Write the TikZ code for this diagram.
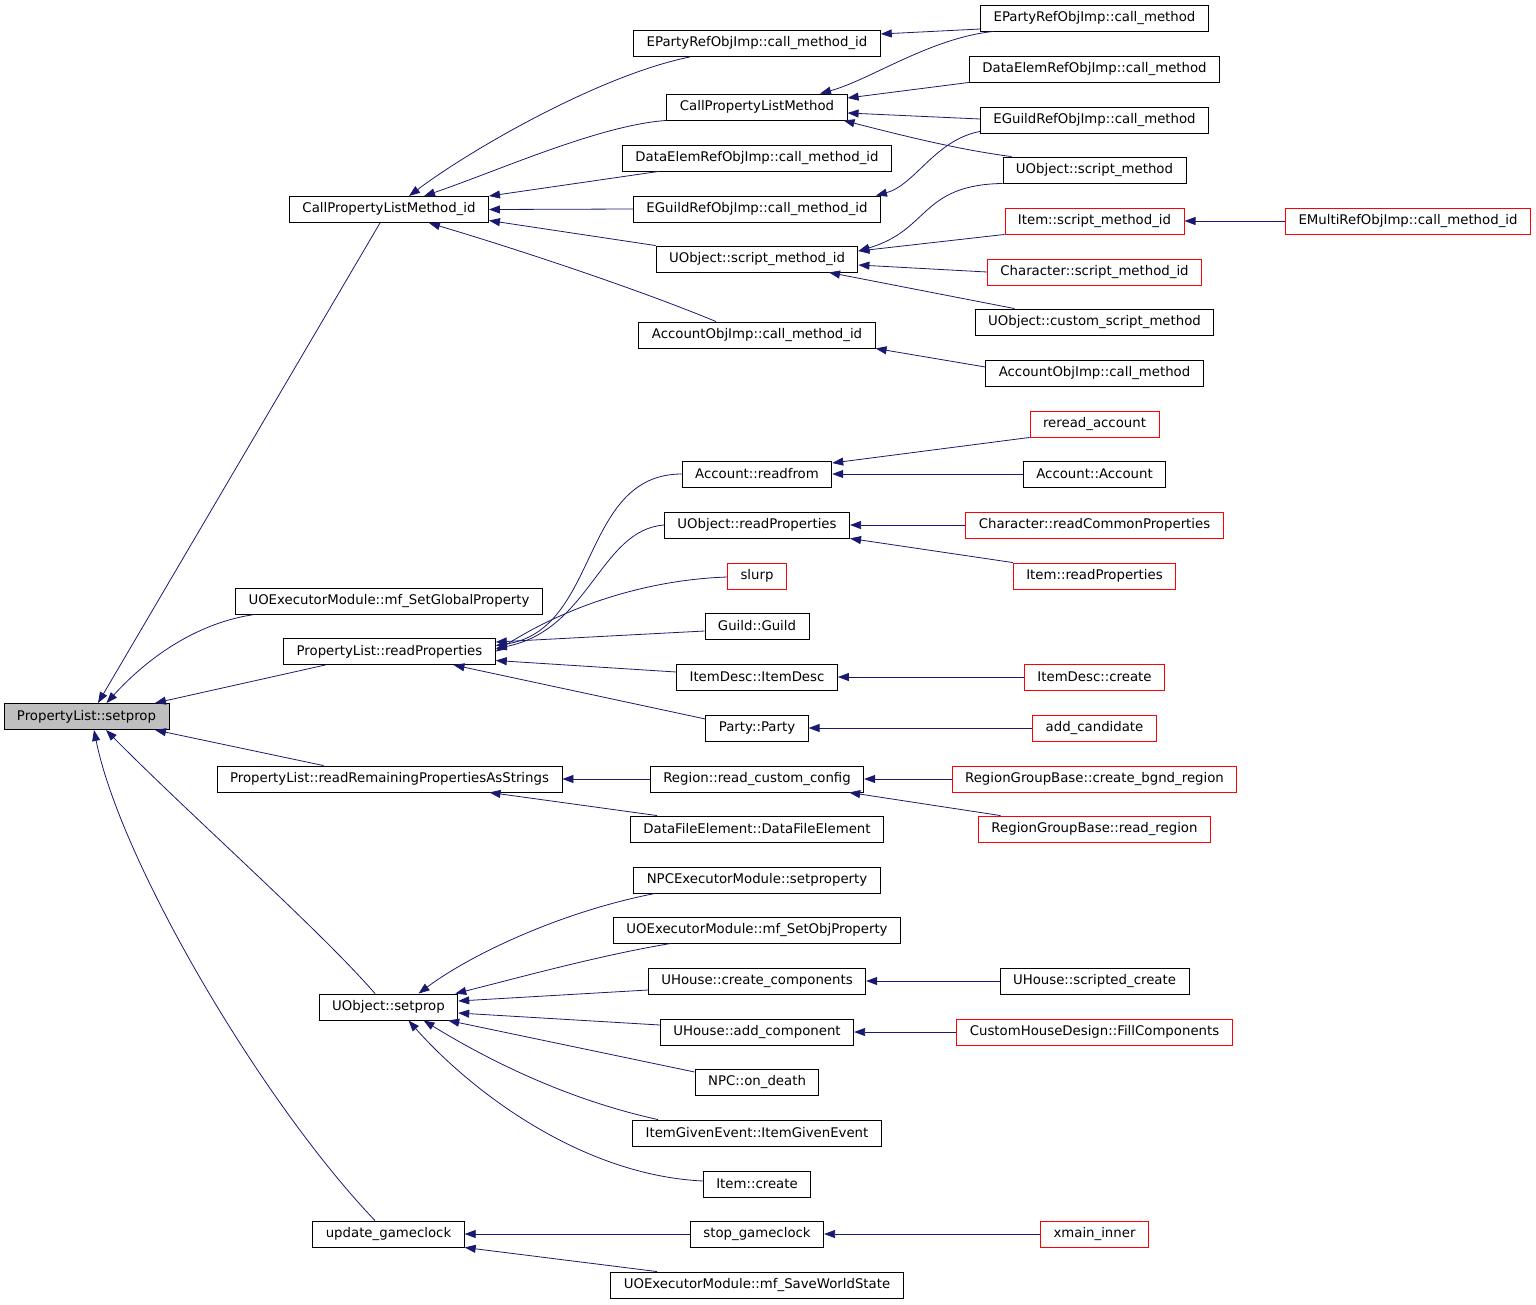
\documentclass[tikz,border=0pt]{standalone}
\usepackage{fontspec}
\setmainfont{DejaVu Sans}
\usetikzlibrary{arrows.meta}
\definecolor{edgeblue}{HTML}{191970}
\definecolor{boxred}{HTML}{FF0000}
\definecolor{focusgray}{HTML}{BFBFBF}

\begin{document}
\begin{tikzpicture}[x=1pt, y=-1pt,
		fn/.style={draw=black, line width=0.9pt, rectangle, minimum height=26pt, inner xsep=13pt, inner ysep=0pt, font=\fontsize{13.3}{15}\selectfont},
		fnred/.style={fn, draw=boxred},
		calls/.style={draw=edgeblue, line width=0.8pt, {Triangle[length=11pt,width=8pt]}-}]
	\useasboundingbox (0,0) rectangle (1536,1304);
	\node[fn, fill=focusgray] (setprop) at (86.5,716.5) {PropertyList::setprop};
	\node[fn] (cplmId) at (389,209.5) {CallPropertyListMethod\_id};
	\node[fn] (setGlobal) at (389,601) {UOExecutorModule::mf\_SetGlobalProperty};
	\node[fn] (plReadProps) at (389.5,651.5) {PropertyList::readProperties};
	\node[fn] (plReadRemaining) at (389.5,779) {PropertyList::readRemainingPropertiesAsStrings};
	\node[fn] (uoSetprop) at (388.5,1007) {UObject::setprop};
	\node[fn] (updateClock) at (388.5,1234) {update\_gameclock};
	\node[fn] (epartyId) at (757,43.5) {EPartyRefObjImp::call\_method\_id};
	\node[fn] (cplm) at (757,107) {CallPropertyListMethod};
	\node[fn] (dataelemId) at (757,158) {DataElemRefObjImp::call\_method\_id};
	\node[fn] (eguildId) at (757,209) {EGuildRefObjImp::call\_method\_id};
	\node[fn] (uoScriptId) at (757,259) {UObject::script\_method\_id};
	\node[fn] (accountId) at (757,335) {AccountObjImp::call\_method\_id};
	\node[fn] (accReadfrom) at (757,474) {Account::readfrom};
	\node[fn] (uoReadProps) at (757,525) {UObject::readProperties};
	\node[fnred] (slurp) at (757,576) {slurp};
	\node[fn] (guild) at (757,626) {Guild::Guild};
	\node[fn] (itemDescCtor) at (757,677) {ItemDesc::ItemDesc};
	\node[fn] (party) at (757,728) {Party::Party};
	\node[fn] (regionCfg) at (757,779) {Region::read\_custom\_config};
	\node[fn] (dataFileElem) at (757,829) {DataFileElement::DataFileElement};
	\node[fn] (npcSetprop) at (757,880) {NPCExecutorModule::setproperty};
	\node[fn] (setObjProp) at (757,930) {UOExecutorModule::mf\_SetObjProperty};
	\node[fn] (createComps) at (757,981) {UHouse::create\_components};
	\node[fn] (addComp) at (757,1032) {UHouse::add\_component};
	\node[fn] (npcDeath) at (757,1082) {NPC::on\_death};
	\node[fn] (itemGiven) at (757,1133) {ItemGivenEvent::ItemGivenEvent};
	\node[fn] (itemCreate) at (757,1184) {Item::create};
	\node[fn] (stopClock) at (757,1234) {stop\_gameclock};
	\node[fn] (saveWorld) at (757,1285) {UOExecutorModule::mf\_SaveWorldState};
	\node[fn] (epartyCm) at (1094.5,18) {EPartyRefObjImp::call\_method};
	\node[fn] (dataelemCm) at (1094.5,69) {DataElemRefObjImp::call\_method};
	\node[fn] (eguildCm) at (1094.5,120) {EGuildRefObjImp::call\_method};
	\node[fn] (uoScriptMethod) at (1094.5,170) {UObject::script\_method};
	\node[fnred] (itemScriptId) at (1094.5,221) {Item::script\_method\_id};
	\node[fnred] (charScriptId) at (1094.5,272) {Character::script\_method\_id};
	\node[fn] (customScript) at (1094.5,322) {UObject::custom\_script\_method};
	\node[fn] (accountCm) at (1094.5,373) {AccountObjImp::call\_method};
	\node[fnred] (rereadAccount) at (1094.5,424) {reread\_account};
	\node[fn] (accountCtor) at (1094.5,474) {Account::Account};
	\node[fnred] (charReadCommon) at (1094.5,525) {Character::readCommonProperties};
	\node[fnred] (itemReadProps) at (1094.5,576) {Item::readProperties};
	\node[fnred] (itemDescCreate) at (1094.5,677) {ItemDesc::create};
	\node[fnred] (addCandidate) at (1094.5,728) {add\_candidate};
	\node[fnred] (createBgnd) at (1094.5,779) {RegionGroupBase::create\_bgnd\_region};
	\node[fnred] (readRegion) at (1094.5,829) {RegionGroupBase::read\_region};
	\node[fn] (scriptedCreate) at (1094.5,981) {UHouse::scripted\_create};
	\node[fnred] (fillComps) at (1094.5,1032) {CustomHouseDesign::FillComponents};
	\node[fnred] (xmainInner) at (1094.5,1234) {xmain\_inner};
	\node[fnred] (emultiId) at (1408,221) {EMultiRefObjImp::call\_method\_id};

	\draw[calls] ([xshift=11.5]setprop.north) -- ([xshift=-9]cplmId.south);
	\draw[calls] ([xshift=20]setprop.north) .. controls (150,655) and (200,622) .. ([xshift=-134]setGlobal.south);
	\draw[calls] ([xshift=68.5]setprop.north) -- ([xshift=-64]plReadProps.south);
	\draw[calls] ([xshift=68.5]setprop.south) -- ([xshift=-66]plReadRemaining.north);
	\draw[calls] ([xshift=19.5]setprop.south) .. controls (190,815) and (320,930) .. ([xshift=-13.5]uoSetprop.north);
	\draw[calls] ([xshift=7.5]setprop.south) .. controls (120,860) and (260,1100) .. ([xshift=-13.5]updateClock.north);
	\draw[calls] ([xshift=20]cplmId.north) .. controls (470,150) and (600,75) .. ([xshift=-67]epartyId.south);
	\draw[calls] ([xshift=35]cplmId.north) .. controls (500,170) and (600,125) .. (cplm.south west);
	\draw[calls] (cplmId.north east) -- ([xshift=-98.5]dataelemId.south);
	\draw[calls] (cplmId.east) -- (eguildId.west);
	\draw[calls] ([yshift=-11]cplmId.east) -- (uoScriptId.north west);
	\draw[calls] ([xshift=40]cplmId.south) .. controls (520,250) and (640,290) .. ([xshift=-41]accountId.north);
	\draw[calls] ([xshift=63]cplm.north) .. controls (870,80) and (930,38) .. ([xshift=-101]epartyCm.south);
	\draw[calls] ([yshift=9]cplm.east) -- (dataelemCm.south west);
	\draw[calls] ([yshift=-6]cplm.east) -- ([yshift=1]eguildCm.west);
	\draw[calls] ([xshift=-4]cplm.south east) .. controls (900,135) and (960,150) .. ([xshift=-83]uoScriptMethod.north);
	\draw[calls] ([yshift=9.5]epartyId.east) -- ([yshift=-11]epartyCm.west);
	\draw[calls] ([xshift=-5]eguildId.north east) .. controls (915,185) and (935,140) .. ([yshift=2]eguildCm.south west);
	\draw[calls] ([yshift=8]uoScriptId.east) .. controls (930,230) and (920,185) .. (uoScriptMethod.south west);
	\draw[calls] ([yshift=8]uoScriptId.east) -- (itemScriptId.south west);
	\draw[calls] ([yshift=-6]uoScriptId.east) -- (charScriptId.west);
	\draw[calls] ([xshift=72]uoScriptId.south) -- ([xshift=-80]customScript.north);
	\draw[calls] (accountId.south east) -- ([yshift=6]accountCm.west);
	\draw[calls] (itemScriptId.east) -- (emultiId.west);
	\draw[calls] ([yshift=6]plReadProps.east) .. controls (600,630) and (580,474) .. (accReadfrom.west);
	\draw[calls] ([yshift=3]plReadProps.east) .. controls (590,630) and (600,530) .. (uoReadProps.west);
	\draw[calls] (plReadProps.east) .. controls (560,610) and (640,580) .. ([yshift=-1]slurp.west);
	\draw[calls] ([yshift=9.5]plReadProps.east) -- ([yshift=-5]guild.west);
	\draw[calls] ([yshift=-9]plReadProps.east) -- ([yshift=5]itemDescCtor.west);
	\draw[calls] ([xshift=64]plReadProps.south) -- ([yshift=9]party.west);
	\draw[calls] ([yshift=11]accReadfrom.east) -- (rereadAccount.south west);
	\draw[calls] (accReadfrom.east) -- (accountCtor.west);
	\draw[calls] (uoReadProps.east) -- (charReadCommon.west);
	\draw[calls] (uoReadProps.south east) -- (itemReadProps.north west);
	\draw[calls] (itemDescCtor.east) -- (itemDescCreate.west);
	\draw[calls] (party.east) -- (addCandidate.west);
	\draw[calls] (plReadRemaining.east) -- (regionCfg.west);
	\draw[calls] ([xshift=100]plReadRemaining.south) -- ([xshift=-100]dataFileElem.north);
	\draw[calls] (regionCfg.east) -- (createBgnd.west);
	\draw[calls] ([xshift=-15]regionCfg.south east) -- ([xshift=-94]readRegion.north);
	\draw[calls] ([xshift=30]uoSetprop.north) .. controls (470,955) and (560,912) .. ([xshift=-102]npcSetprop.south);
	\draw[calls] ([xshift=-3]uoSetprop.north east) .. controls (510,980) and (600,955) .. ([xshift=-86]setObjProp.south);
	\draw[calls] ([yshift=6]uoSetprop.east) -- ([yshift=-9]createComps.west);
	\draw[calls] ([yshift=-6]uoSetprop.east) -- ([yshift=7]addComp.west);
	\draw[calls] ([xshift=-10]uoSetprop.south east) -- ([yshift=10]npcDeath.west);
	\draw[calls] ([xshift=35]uoSetprop.south) .. controls (480,1055) and (560,1098) .. ([xshift=-99]itemGiven.north);
	\draw[calls] ([xshift=20]uoSetprop.south) .. controls (470,1090) and (580,1175) .. ([yshift=3]itemCreate.west);
	\draw[calls] (createComps.east) -- (scriptedCreate.west);
	\draw[calls] (addComp.east) -- (fillComps.west);
	\draw[calls] (updateClock.east) -- (stopClock.west);
	\draw[calls] (updateClock.south east) -- ([xshift=-100]saveWorld.north);
	\draw[calls] (stopClock.east) -- (xmainInner.west);
\end{tikzpicture}
\end{document}
